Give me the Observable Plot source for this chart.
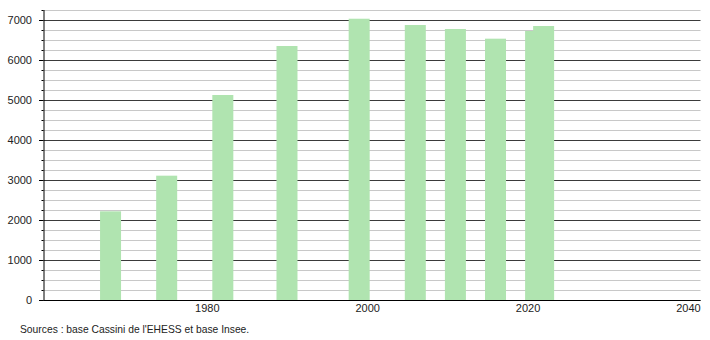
<!DOCTYPE html>
<html>
<head>
<meta charset="utf-8">
<script src="https://cdn.jsdelivr.net/npm/d3@7"></script>
<script src="https://cdn.jsdelivr.net/npm/@observablehq/plot@0.6"></script>
<style>
  html, body { margin: 0; padding: 0; background: #fff; }
  body { width: 710px; height: 340px; overflow: hidden; font-family: "Liberation Sans", Arial, sans-serif; }
  #caption { font-size: 10.3px; color: #222; padding-left: 20px; margin-top: 5px; line-height: 13px; }
  svg { display: block; }
</style>
</head>
<body>
<div id="chart"></div>
<div id="caption">Sources : base Cassini de l'EHESS et base Insee.</div>
<script>
const years = [1968, 1975, 1982, 1990, 1999, 2006, 2011, 2016, 2021, 2022];
const population = [2217, 3108, 5125, 6350, 7032, 6875, 6775, 6533, 6725, 6850];
const yMajorTicks = [0, 1000, 2000, 3000, 4000, 5000, 6000, 7000];
const yMinorTicks = [250, 500, 750, 1250, 1500, 1750, 2250, 2500, 2750, 3250, 3500, 3750,
  4250, 4500, 4750, 5250, 5500, 5750, 6250, 6500, 6750, 7250];
const xTicks = [1980, 2000, 2020, 2040];

const data = years.map((y, i) => ({year: y, pop: population[i]}));
const halfWidth = 1.31;

const chart = Plot.plot({
  width: 710,
  height: 318,
  marginLeft: 43.5,
  marginRight: 9.5,
  marginTop: 10,
  marginBottom: 18,
  style: {fontFamily: "'Liberation Sans', Arial, sans-serif", fontSize: "11px", background: "#fff", color: "#222"},
  x: {domain: [1959.64, 2041.56], label: null},
  y: {domain: [0, 7250], label: null},
  marks: [
    Plot.ruleY(yMinorTicks, {stroke: "#c8c8c8", strokeWidth: 1}),
    Plot.ruleY(yMajorTicks, {stroke: "#3a3a3a", strokeWidth: 1}),
    Plot.rectY(data, {x1: d => d.year - halfWidth, x2: d => d.year + halfWidth, y1: 0, y2: "pop", fill: "#b0e4b0"}),
    Plot.ruleY([0], {stroke: "#000", strokeWidth: 1.2}),
    Plot.frame({anchor: "left", stroke: "#000"}),
    Plot.axisY({ticks: yMinorTicks, tickSize: 2, tickFormat: () => "", stroke: "#000", label: null}),
    Plot.axisY({ticks: yMajorTicks, tickSize: 4.5, tickPadding: 7.5, tickFormat: d => String(d), stroke: "#000", fill: "#222", label: null}),
    Plot.axisX({ticks: xTicks, tickSize: 0, tickPadding: 4, tickFormat: d => String(d), fill: "#222", label: null})
  ]
});
document.getElementById("chart").appendChild(chart);
</script>
</body>
</html>
